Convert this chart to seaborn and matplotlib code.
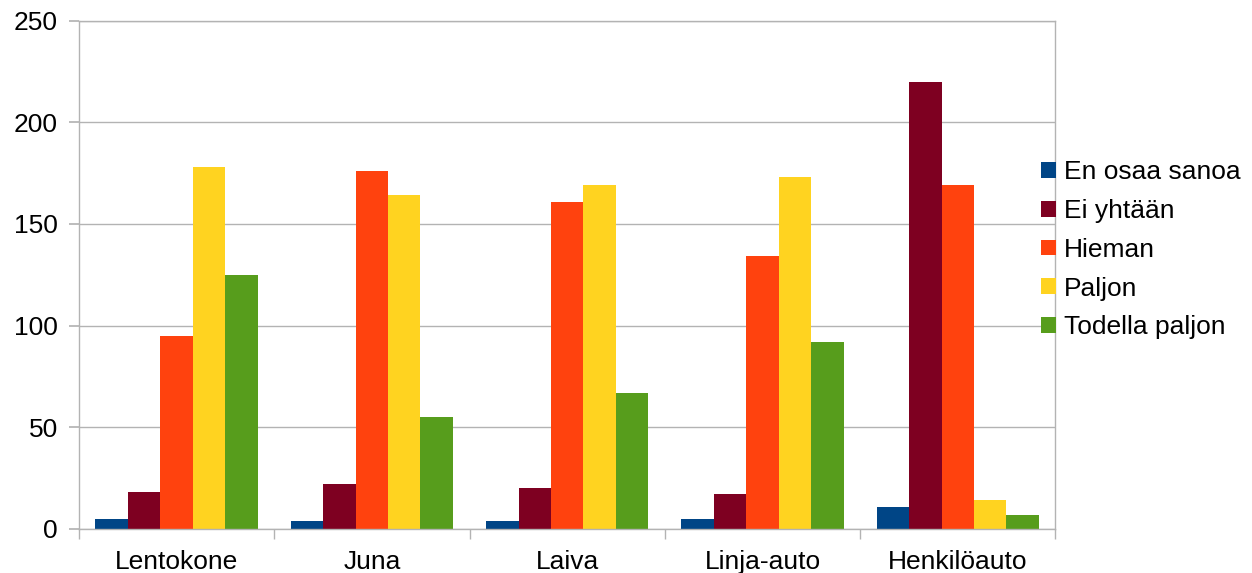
import pandas as pd
import numpy as np
import seaborn as sns
import matplotlib.pyplot as plt
from matplotlib.ticker import FixedLocator

categories = ['Lentokone', 'Juna', 'Laiva', 'Linja-auto', 'Henkilöauto']
series = ['En osaa sanoa', 'Ei yhtään', 'Hieman', 'Paljon', 'Todella paljon']
en_osaa = [5, 4, 4, 5, 11]
ei_yhtaan = [18, 22, 20, 17, 220]
hieman = [95, 176, 161, 134, 169]
paljon = [178, 164, 169, 173, 14]
todella = [125, 55, 67, 92, 7]
colors = ['#004586', '#7E0021', '#FF420E', '#FFD320', '#579D1C']

rows = []
for name, vals in zip(series, [en_osaa, ei_yhtaan, hieman, paljon, todella]):
    for cat, v in zip(categories, vals):
        rows.append({'kulkuneuvo': cat, 'vastaus': name, 'määrä': v})
df = pd.DataFrame(rows)

sns.set_theme(style='white')
plt.rcParams['font.family'] = ['Liberation Sans', 'DejaVu Sans']
plt.rcParams['text.color'] = 'black'

fig = plt.figure(figsize=(12.52, 5.73), dpi=100)
ax = fig.add_axes([0.063, 0.077, 0.78, 0.887])
sns.barplot(data=df, x='kulkuneuvo', y='määrä', hue='vastaus', order=categories,
            hue_order=series, palette=colors, width=0.83, linewidth=0,
            saturation=1, ax=ax)

ax.set_ylim(0, 250)
ax.set_xlim(-0.5, len(categories) - 0.5)
ax.set_yticks(range(0, 251, 50))
ax.yaxis.grid(True, color='#b3b3b3', linewidth=1)
ax.set_axisbelow(True)
for s in ax.spines.values():
    s.set_color('#b3b3b3')
    s.set_linewidth(1)
ax.set_xlabel('')
ax.set_ylabel('')
ax.tick_params(axis='y', labelsize=19, colors='black', length=7, color='#b3b3b3',
               left=True, direction='out', pad=8)
ax.tick_params(axis='x', labelsize=19, colors='black', length=0, pad=15)
ax.xaxis.set_minor_locator(FixedLocator(np.arange(-0.5, len(categories), 1)))
ax.tick_params(axis='x', which='minor', length=7, color='#b3b3b3', bottom=True, direction='out')

leg = ax.legend(loc='center left', bbox_to_anchor=(0.9857, 0.549), frameon=False, fontsize=19,
                handlelength=0.55, handleheight=0.55, handletextpad=0.3, labelspacing=0.56,
                borderpad=0, borderaxespad=0)
for t in leg.get_texts():
    t.set_color('black')

fig.savefig('out.png', dpi=100)
